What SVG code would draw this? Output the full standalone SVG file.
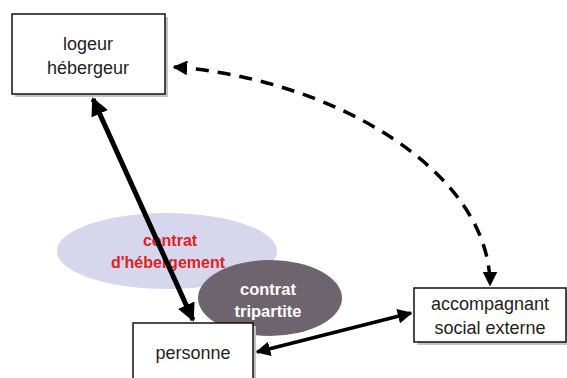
<svg xmlns="http://www.w3.org/2000/svg" width="567" height="378" viewBox="0 0 567 378">
<style>
  .box{fill:#fff;stroke:#111;stroke-width:1.5}
  .shadow{fill:#c4c4c4}
  .lbl{font-family:"Liberation Sans",Arial,sans-serif;font-size:18px;fill:#222;text-anchor:middle}
  .red{font-family:"Liberation Sans",Arial,sans-serif;font-size:16px;font-weight:bold;fill:#e0221f;text-anchor:middle}
  .wht{font-family:"Liberation Sans",Arial,sans-serif;font-size:16.5px;font-weight:bold;fill:#fff;text-anchor:middle}
  .con{fill:none;stroke:#000}
</style>
<defs>
  <marker id="ah" viewBox="0 0 10 10" refX="9" refY="5" markerWidth="3.6" markerHeight="3.6" orient="auto-start-reverse" markerUnits="strokeWidth">
    <path d="M0,0 L10,5 L0,10 z" fill="#000"/>
  </marker>
  <marker id="ah2" viewBox="0 0 10 10" refX="9" refY="5" markerWidth="4.2" markerHeight="4.2" orient="auto-start-reverse" markerUnits="strokeWidth">
    <path d="M0,0 L10,5 L0,10 z" fill="#000"/>
  </marker>
</defs>
<rect width="567" height="378" fill="#fff"/>

<g id="contrat-hebergement">
  <ellipse cx="167" cy="251" rx="110" ry="38" fill="#d6d6ec"/>
  <text class="red" x="170" y="246">contrat</text>
  <text class="red" x="168" y="268">d'hébergement</text>
</g>

<g id="contrat-tripartite">
  <ellipse cx="270" cy="298" rx="72" ry="38" fill="#6e646e"/>
  <text class="wht" x="268" y="295">contrat</text>
  <text class="wht" x="268" y="317">tripartite</text>
</g>

<g id="connectors">
  <line class="con" x1="93" y1="99" x2="193" y2="320" stroke-width="5" marker-start="url(#ah)" marker-end="url(#ah)"/>
  <line class="con" x1="257" y1="352" x2="411" y2="313" stroke-width="3.5" marker-start="url(#ah2)" marker-end="url(#ah2)"/>
  <path class="con" d="M174,67 C330,78 490,170 490,285" stroke-width="3.5" stroke-dasharray="13,9" marker-start="url(#ah2)" marker-end="url(#ah2)"/>
</g>

<g id="logeur">
  <rect class="shadow" x="15" y="17" width="153" height="80"/>
  <rect class="box" x="12" y="14" width="153" height="80"/>
  <text class="lbl" x="88" y="50">logeur</text>
  <text class="lbl" x="88" y="74">hébergeur</text>
</g>

<g id="personne">
  <rect class="shadow" x="136" y="326" width="120" height="60"/>
  <rect class="box" x="133" y="323" width="120" height="60"/>
  <text class="lbl" x="193" y="359">personne</text>
</g>

<g id="accompagnant">
  <rect class="shadow" x="417" y="291" width="152" height="54"/>
  <rect class="box" x="414" y="288" width="152" height="54"/>
  <text class="lbl" x="490" y="310">accompagnant</text>
  <text class="lbl" x="490" y="334">social externe</text>
</g>
</svg>
